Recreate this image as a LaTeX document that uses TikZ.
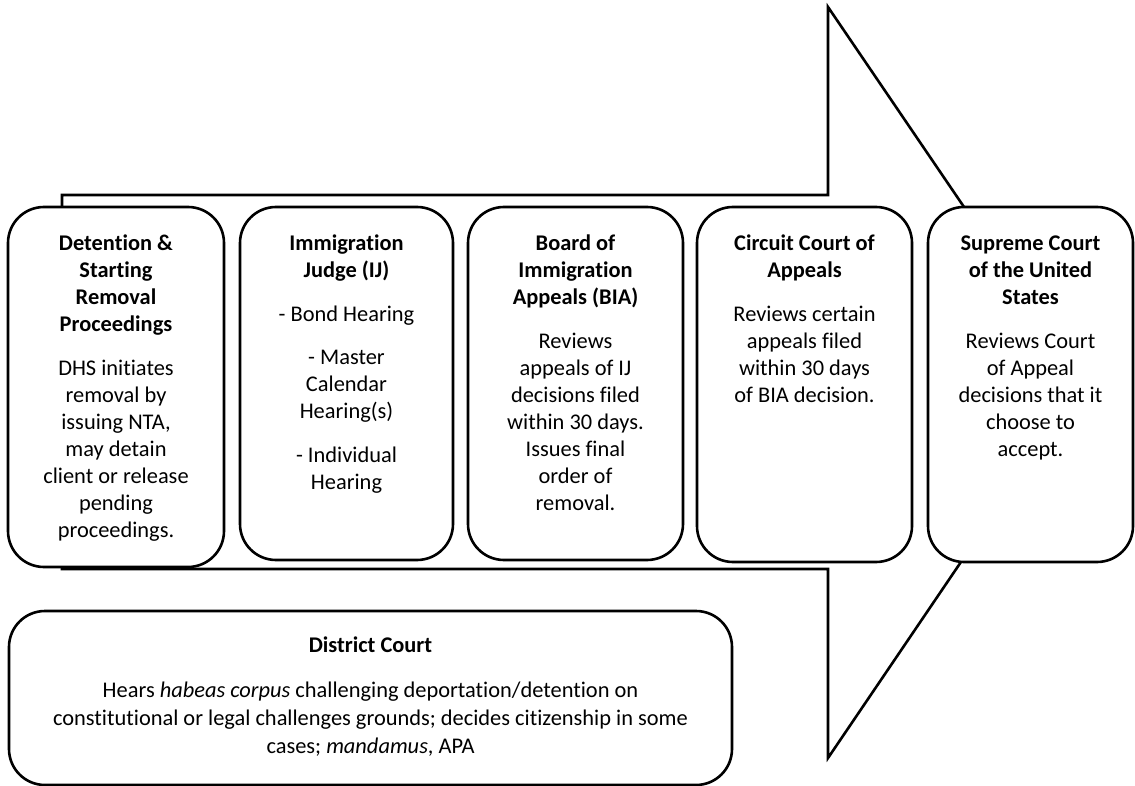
\documentclass[tikz,border=0pt]{standalone}
\usepackage{fontspec}
\setmainfont{Carlito}[Ligatures={NoCommon}]
\begin{document}
\begin{tikzpicture}[x=1pt,y=-1pt,
  box/.style={draw, line width=2.6pt, rounded corners=36pt, fill=white, inner sep=0pt},
  arrowshape/.style={draw, line width=2.6pt, fill=white, line join=miter},
  txt/.style={align=center, inner sep=0pt, anchor=north, font=\fontsize{22.4}{27}\selectfont},
]
\useasboundingbox (0,0) rectangle (1135,786);
% big arrow in the background
\coordinate (a1) at (62,195);
\coordinate (a2) at (828,195);
\coordinate (a3) at (828,7);
\coordinate (tip) at (1083,382);
\coordinate (a5) at (828,758);
\coordinate (a6) at (828,569);
\coordinate (a7) at (62,569);
\draw[arrowshape] (a1) -- (a2) -- (a3) -- (tip) -- (a5) -- (a6) -- (a7) -- cycle;

% boxes
\node[box, minimum width=216pt, minimum height=360pt] (b1) at (116,387) {};
\node[box, minimum width=213pt, minimum height=353pt] (b2) at (346.5,383.5) {};
\node[box, minimum width=215pt, minimum height=353pt] (b3) at (575.5,383.5) {};
\node[box, minimum width=215pt, minimum height=355pt] (b4) at (804.5,384.5) {};
\node[box, minimum width=205pt, minimum height=355pt] (b5) at (1030.5,384.5) {};
\node[box, minimum width=723pt, minimum height=174pt] (d) at (370.5,698) {};

% texts
\node[txt] (t1) at ([yshift=-29pt]b1.north) {\rule{0pt}{16pt}\textbf{Detention \&}\\ \textbf{Starting}\\ \textbf{Removal}\\ \textbf{Proceedings}\\[17pt]
DHS initiates\\ removal by\\ issuing NTA,\\ may detain\\ client or release\\ pending\\ proceedings.};
\node[txt] (t2) at ([yshift=-29pt]b2.north) {\rule{0pt}{16pt}\textbf{Immigration}\\ \textbf{Judge (IJ)}\\[17pt]
- Bond Hearing\\[16pt] - Master\\ Calendar\\ Hearing(s)\\[17pt] - Individual\\ Hearing};
\node[txt] (t3) at ([yshift=-29pt]b3.north) {\rule{0pt}{16pt}\textbf{Board of}\\ \textbf{Immigration}\\ \textbf{Appeals (BIA)}\\[17pt]
Reviews\\ appeals of IJ\\ decisions filed\\ within 30 days.\\ Issues final\\ order of\\ removal.};
\node[txt] (t4) at ([yshift=-29pt]b4.north) {\rule{0pt}{16pt}\textbf{Circuit Court of}\\ \textbf{Appeals}\\[17pt]
Reviews certain\\ appeals filed\\ within 30 days\\ of BIA decision.};
\node[txt] (t5) at ([yshift=-29pt]b5.north) {\rule{0pt}{16pt}\textbf{Supreme Court}\\ \textbf{of the United}\\ \textbf{States}\\[17pt]
Reviews Court\\ of Appeal\\ decisions that it\\ choose to\\ accept.};
\node[txt, font=\fontsize{22.4}{28}\selectfont] (td) at ([yshift=-27pt]d.north) {\rule{0pt}{16pt}\textbf{District Court}\\[17pt]
Hears \textit{habeas corpus} challenging deportation/detention on\\
constitutional or legal challenges grounds; decides citizenship in some\\
cases; \textit{mandamus}, APA};
\end{tikzpicture}
\end{document}
